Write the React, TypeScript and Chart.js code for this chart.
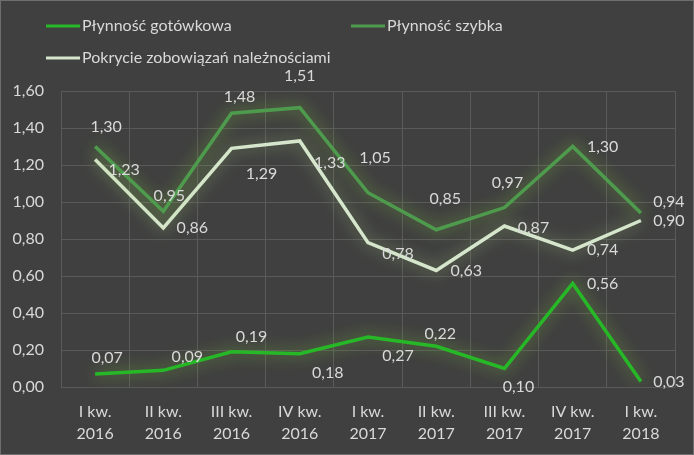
import React, { useEffect, useRef } from "react";
import { Chart, registerables } from "chart.js";

Chart.register(...registerables);

const categories: string[][] = [
  ["I kw.", "2016"], ["II kw.", "2016"], ["III kw.", "2016"], ["IV kw.", "2016"],
  ["I kw.", "2017"], ["II kw.", "2017"], ["III kw.", "2017"], ["IV kw.", "2017"],
  ["I kw.", "2018"],
];
const seriesNames = ["Płynność gotówkowa", "Płynność szybka", "Pokrycie zobowiązań należnościami"];
const gotowkowa = [0.07, 0.09, 0.19, 0.18, 0.27, 0.22, 0.10, 0.56, 0.03];
const szybka = [1.30, 0.95, 1.48, 1.51, 1.05, 0.85, 0.97, 1.30, 0.94];
const pokrycie = [1.23, 0.86, 1.29, 1.33, 0.78, 0.63, 0.87, 0.74, 0.90];
const yTicks = [0, 0.2, 0.4, 0.6, 0.8, 1.0, 1.2, 1.4, 1.6];

// label offsets (dx, dy) relative to each point, per series
const labelOffsets: number[][][] = [
  [[12, -16], [24, -14], [20, -15], [28, 19], [30, 19], [4, -12], [14, 18], [30, 0], [28, 0]],
  [[11, -20], [6, -15], [8, -16], [0, -32], [7, -35], [9, -31], [3, -25], [30, 0], [28, -11]],
  [[29, 10], [29, 0], [30, 25], [30, 22], [30, 11], [30, 0], [29, 2], [30, 0], [28, 0]],
];

const colors = ["#27b827", "#4e9b4e", "#d6e6cc"];
const glows = ["rgba(130,200,60,0.75)", "rgba(130,200,60,0.75)", "rgba(160,200,120,0.7)"];
const FONT = "Lato, 'Open Sans', sans-serif";
const TEXT = "#d9d9d9";

const fmt = (v: number) => v.toFixed(2).replace(".", ",");

const glowPlugin = {
  id: "glow",
  beforeDatasetDraw(chart: any, args: any) {
    const ctx = chart.ctx;
    ctx.save();
    ctx.shadowColor = glows[args.index];
    ctx.shadowBlur = 16;
  },
  afterDatasetDraw(chart: any) {
    chart.ctx.restore();
  },
};

const labelsPlugin = {
  id: "pointLabels",
  afterDatasetsDraw(chart: any) {
    const ctx = chart.ctx;
    ctx.save();
    ctx.font = `16px ${FONT}`;
    ctx.fillStyle = TEXT;
    ctx.textAlign = "center";
    ctx.textBaseline = "middle";
    chart.data.datasets.forEach((ds: any, i: number) => {
      const meta = chart.getDatasetMeta(i);
      meta.data.forEach((pt: any, j: number) => {
        const [dx, dy] = labelOffsets[i][j];
        ctx.fillText(fmt(ds.data[j]), pt.x + dx, pt.y + dy);
      });
    });
    ctx.restore();
  },
};

const legendPlugin = {
  id: "customLegend",
  afterDraw(chart: any) {
    const ctx = chart.ctx;
    const pos = [[46, 26], [351, 26], [46, 58]];
    ctx.save();
    ctx.font = `16px ${FONT}`;
    ctx.textBaseline = "middle";
    ctx.textAlign = "left";
    seriesNames.forEach((name, i) => {
      const [x, y] = pos[i];
      ctx.strokeStyle = colors[i];
      ctx.lineWidth = 3;
      ctx.beginPath();
      ctx.moveTo(x, y);
      ctx.lineTo(x + 34, y);
      ctx.stroke();
      ctx.fillStyle = TEXT;
      ctx.fillText(name, x + 36, y);
    });
    ctx.strokeStyle = "#6e6e6e";
    ctx.lineWidth = 1;
    ctx.strokeRect(0.5, 0.5, chart.width - 1, chart.height - 1);
    ctx.restore();
  },
};

const bgPlugin = {
  id: "bg",
  beforeDraw(chart: any) {
    const ctx = chart.ctx;
    ctx.save();
    ctx.fillStyle = "#404040";
    ctx.fillRect(0, 0, chart.width, chart.height);
    ctx.restore();
  },
};

export default function App() {
  const ref = useRef<HTMLCanvasElement>(null);
  useEffect(() => {
    if (!ref.current) return;
    const data = [gotowkowa, szybka, pokrycie];
    const chart = new Chart(ref.current, {
      type: "line",
      data: {
        labels: categories,
        datasets: data.map((d, i) => ({
          label: seriesNames[i],
          data: d,
          borderColor: colors[i],
          backgroundColor: colors[i],
          borderWidth: 3.5,
          pointRadius: 0,
          tension: 0,
          fill: false,
        })),
      },
      options: {
        animation: false,
        responsive: false,
        maintainAspectRatio: false,
        layout: { padding: { top: 91, right: 19, left: 0, bottom: 0 } },
        plugins: { legend: { display: false }, tooltip: { enabled: false } },
        scales: {
          x: {
            offset: true,
            grid: { offset: true, color: "#5a5a5a", drawTicks: false },
            border: { display: false },
            ticks: {
              color: TEXT,
              font: { family: FONT, size: 16, lineHeight: 1.35 },
              maxRotation: 0,
              autoSkip: false,
              padding: 14,
            },
            afterFit(scale: any) { scale.height = 68; },
          },
          y: {
            min: 0,
            max: 1.6,
            afterBuildTicks(scale: any) { scale.ticks = yTicks.map((v) => ({ value: v })); },
            grid: { color: "#5a5a5a", drawTicks: false },
            border: { display: false },
            ticks: {
              color: TEXT,
              font: { family: FONT, size: 16 },
              padding: 17,
              callback: (v: any) => fmt(Number(v)),
            },
            afterFit(scale: any) { scale.width = 61; },
          },
        },
      },
      plugins: [bgPlugin, glowPlugin, labelsPlugin, legendPlugin],
    });
    return () => chart.destroy();
  }, []);
  return (
    <div style={{ position: "fixed", left: 0, top: 0, width: 694, height: 455 }}>
      <canvas ref={ref} width={694} height={455} style={{ width: 694, height: 455 }} />
    </div>
  );
}
